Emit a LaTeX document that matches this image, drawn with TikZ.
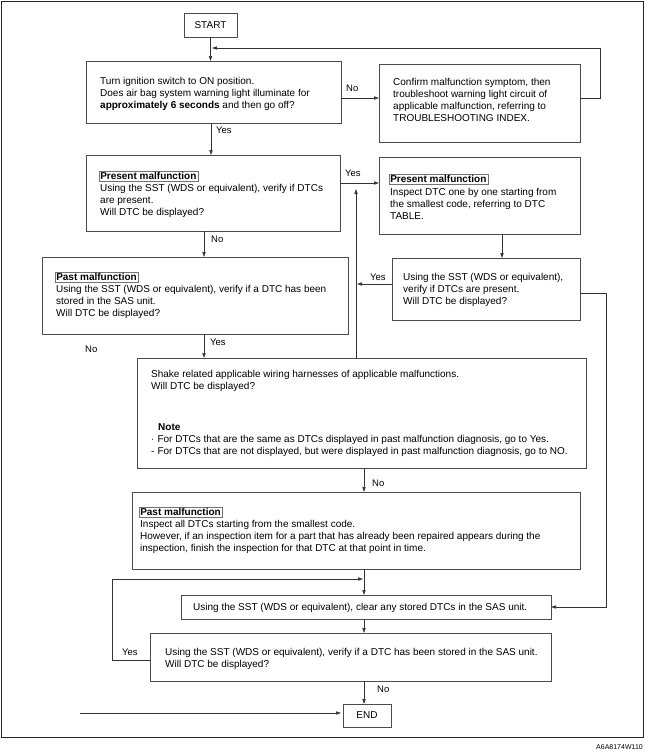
\documentclass[tikz,border=0pt]{standalone}
\usepackage{fontspec}
\setmainfont{Liberation Sans}
\usetikzlibrary{arrows.meta,calc}
\newcommand{\tl}[1]{\begin{tabular}[t]{@{}l@{}}#1\end{tabular}}
\begin{document}
\begin{tikzpicture}[x=1pt,y=-1pt,
  box/.style={draw=black!70, line width=0.6pt, inner sep=0pt, outer sep=0pt, anchor=north west, font=\fontsize{10}{12}\selectfont},
  txt/.style={anchor=base west, inner sep=0pt, font=\fontsize{10}{12}\selectfont},
  lbl/.style={draw=black!55, line width=0.5pt, anchor=base west, inner xsep=1.5pt, inner ysep=1.5pt, font=\fontsize{10}{12}\selectfont\bfseries},
  arr/.style={draw=black!80, line width=0.6pt, -{Triangle[length=5pt,width=3.2pt]}},
  ln/.style={draw=black!60, line width=0.6pt},
  tag/.style={anchor=base west, inner sep=0pt, font=\fontsize{9.5}{11}\selectfont}
]
\useasboundingbox (0,0) rectangle (645,756);
\node[draw=black!85, line width=1.2pt, anchor=north west, minimum width=642pt, minimum height=736pt, inner sep=0pt] (frame) at (1,1) {};
\node[anchor=base east, inner sep=0pt, font=\fontsize{7}{8}\selectfont] (code) at (643,749) {A6A8174W110};

% boxes
\node[box, minimum width=53pt, minimum height=24pt] (START) at (184,13) {START};
\node[box, minimum width=255pt, minimum height=62pt] (B1) at (86,61) {};
\node[box, minimum width=201pt, minimum height=78pt] (C) at (379,64) {};
\node[box, minimum width=254pt, minimum height=76pt] (B2) at (86,155) {};
\node[box, minimum width=201pt, minimum height=77pt] (B3) at (379,157) {};
\node[box, minimum width=188pt, minimum height=62pt] (B4) at (392,258) {};
\node[box, minimum width=306pt, minimum height=77pt] (B5) at (42,257) {};
\node[box, minimum width=449pt, minimum height=110pt] (B6) at (137,358) {};
\node[box, minimum width=448pt, minimum height=77pt] (B7) at (132,492) {};
\node[box, minimum width=370pt, minimum height=24pt] (CL) at (181,595) {};
\node[box, minimum width=401pt, minimum height=48pt] (V) at (150,633) {};
\node[box, minimum width=48pt, minimum height=23pt] (END) at (343,704) {END};

% texts
\node[txt] (t1) at (100,84.5) {\tl{Turn ignition switch to ON position.\\Does air bag system warning light illuminate for\\\textbf{approximately 6 seconds} and then go off?}};
\node[txt] (tC) at (393,85.5) {\tl{Confirm malfunction symptom, then\\troubleshoot warning light circuit of\\applicable malfunction, referring to\\TROUBLESHOOTING INDEX.}};
\node[lbl] (l2) at (98.5,179.5) {Present malfunction};
\node[txt] (t2) at (100,191.5) {\tl{Using the SST (WDS or equivalent), verify if DTCs\\are present.\\Will DTC be displayed?}};
\node[lbl] (l3) at (388.5,182.5) {Present malfunction};
\node[txt] (t3) at (390,195.5) {\tl{Inspect DTC one by one starting from\\the smallest code, referring to DTC\\TABLE.}};
\node[txt] (t4) at (403,280.5) {\tl{Using the SST (WDS or equivalent),\\verify if DTCs are present.\\Will DTC be displayed?}};
\node[lbl] (l5) at (54.5,280.5) {Past malfunction};
\node[txt] (t5) at (56,292.5) {\tl{Using the SST (WDS or equivalent), verify if a DTC has been\\stored in the SAS unit.\\Will DTC be displayed?}};
\node[txt] (t6) at (151,377.5) {\tl{Shake related applicable wiring harnesses of applicable malfunctions.\\Will DTC be displayed?}};
\node[txt, font=\fontsize{10}{12}\selectfont\bfseries] (note) at (158,430.5) {Note};
\node[txt] (t6b) at (151,442.5) {\begin{tabular}[t]{@{}l@{\hspace{3pt}}l@{}}·&For DTCs that are the same as DTCs displayed in past malfunction diagnosis, go to Yes.\\-&For DTCs that are not displayed, but were displayed in past malfunction diagnosis, go to NO.\end{tabular}};
\node[lbl] (l7) at (138.5,515.5) {Past malfunction};
\node[txt] (t7) at (140,527.5) {\tl{Inspect all DTCs starting from the smallest code.\\However, if an inspection item for a part that has already been repaired appears during the\\inspection, finish the inspection for that DTC at that point in time.}};
\node[txt] (tCL) at (193,610.5) {Using the SST (WDS or equivalent), clear any stored DTCs in the SAS unit.};
\node[txt] (tV) at (165,655.5) {\tl{Using the SST (WDS or equivalent), verify if a DTC has been stored in the SAS unit.\\Will DTC be displayed?}};

% coordinates
\coordinate (xS) at (211,0);
\coordinate (xP) at (204,0);
\coordinate (xU) at (356,0);
\coordinate (xM) at (364,0);
\coordinate (x3) at (502,0);
\coordinate (xR1) at (600,0);
\coordinate (xR2) at (606,0);
\coordinate (xL) at (112,0);
\coordinate (yA) at (0,98);
\coordinate (yT) at (0,48);
\coordinate (yY) at (0,183);
\coordinate (yU) at (0,189);
\coordinate (yB4) at (0,284);
\coordinate (yB4r) at (0,293);
\coordinate (yCL) at (0,607);
\coordinate (yV) at (0,660);
\coordinate (yLp) at (0,579);
\coordinate (nofree) at (80,713);

% connectors
\draw[arr] (START.south) -- (START.south |- B1.north);
\draw[arr] (B1.east |- yA) -- (C.west |- yA);
\draw[arr] (C.east |- yA) -- (xR1 |- yA) -- (xR1 |- yT) -- ([xshift=1pt]xS |- yT);
\draw[arr] (xS |- B1.south) -- (xS |- B2.north);
\draw[arr] (B2.east |- yY) -- (B3.west |- yY);
\draw[arr] (xP |- B2.south) -- (xP |- B5.north);
\draw[arr] (x3 |- B3.south) -- (x3 |- B4.north);
\draw[arr] (B4.west |- yB4) -- ([xshift=1pt]xU |- yB4);
\draw[arr] (xU |- B6.north) -- (xU |- yU);
\draw[arr] (xP |- B5.south) -- (xP |- B6.north);
\draw[arr] (B4.east |- yB4r) -- (xR2 |- yB4r) -- (xR2 |- yCL) -- (CL.east |- yCL);
\draw[arr] (xM |- B6.south) -- (xM |- B7.north);
\draw[arr] (xM |- B7.south) -- (xM |- CL.north);
\draw[arr] (V.west |- yV) -- (xL |- yV) -- (xL |- yLp) -- ([xshift=-1pt]xM |- yLp);
\draw[arr] (xM |- CL.south) -- (xM |- V.north);
\draw[arr] (xM |- V.south) -- (xM |- END.north);
\draw[arr] (nofree) -- ([xshift=-2pt]END.west |- nofree);

% labels
\node[tag] (n1) at (346,91.5) {No};
\node[tag] (y1) at (216,133.5) {Yes};
\node[tag] (y2) at (345,176.5) {Yes};
\node[tag] (n2) at (211,242.5) {No};
\node[tag] (y4) at (370,280.5) {Yes};
\node[tag] (y5) at (210,345.5) {Yes};
\node[tag] (n5) at (85,352.5) {No};
\node[tag] (n6) at (372,486.5) {No};
\node[tag] (yv) at (122,655.5) {Yes};
\node[tag] (nv) at (377,692.5) {No};
\end{tikzpicture}
\end{document}
